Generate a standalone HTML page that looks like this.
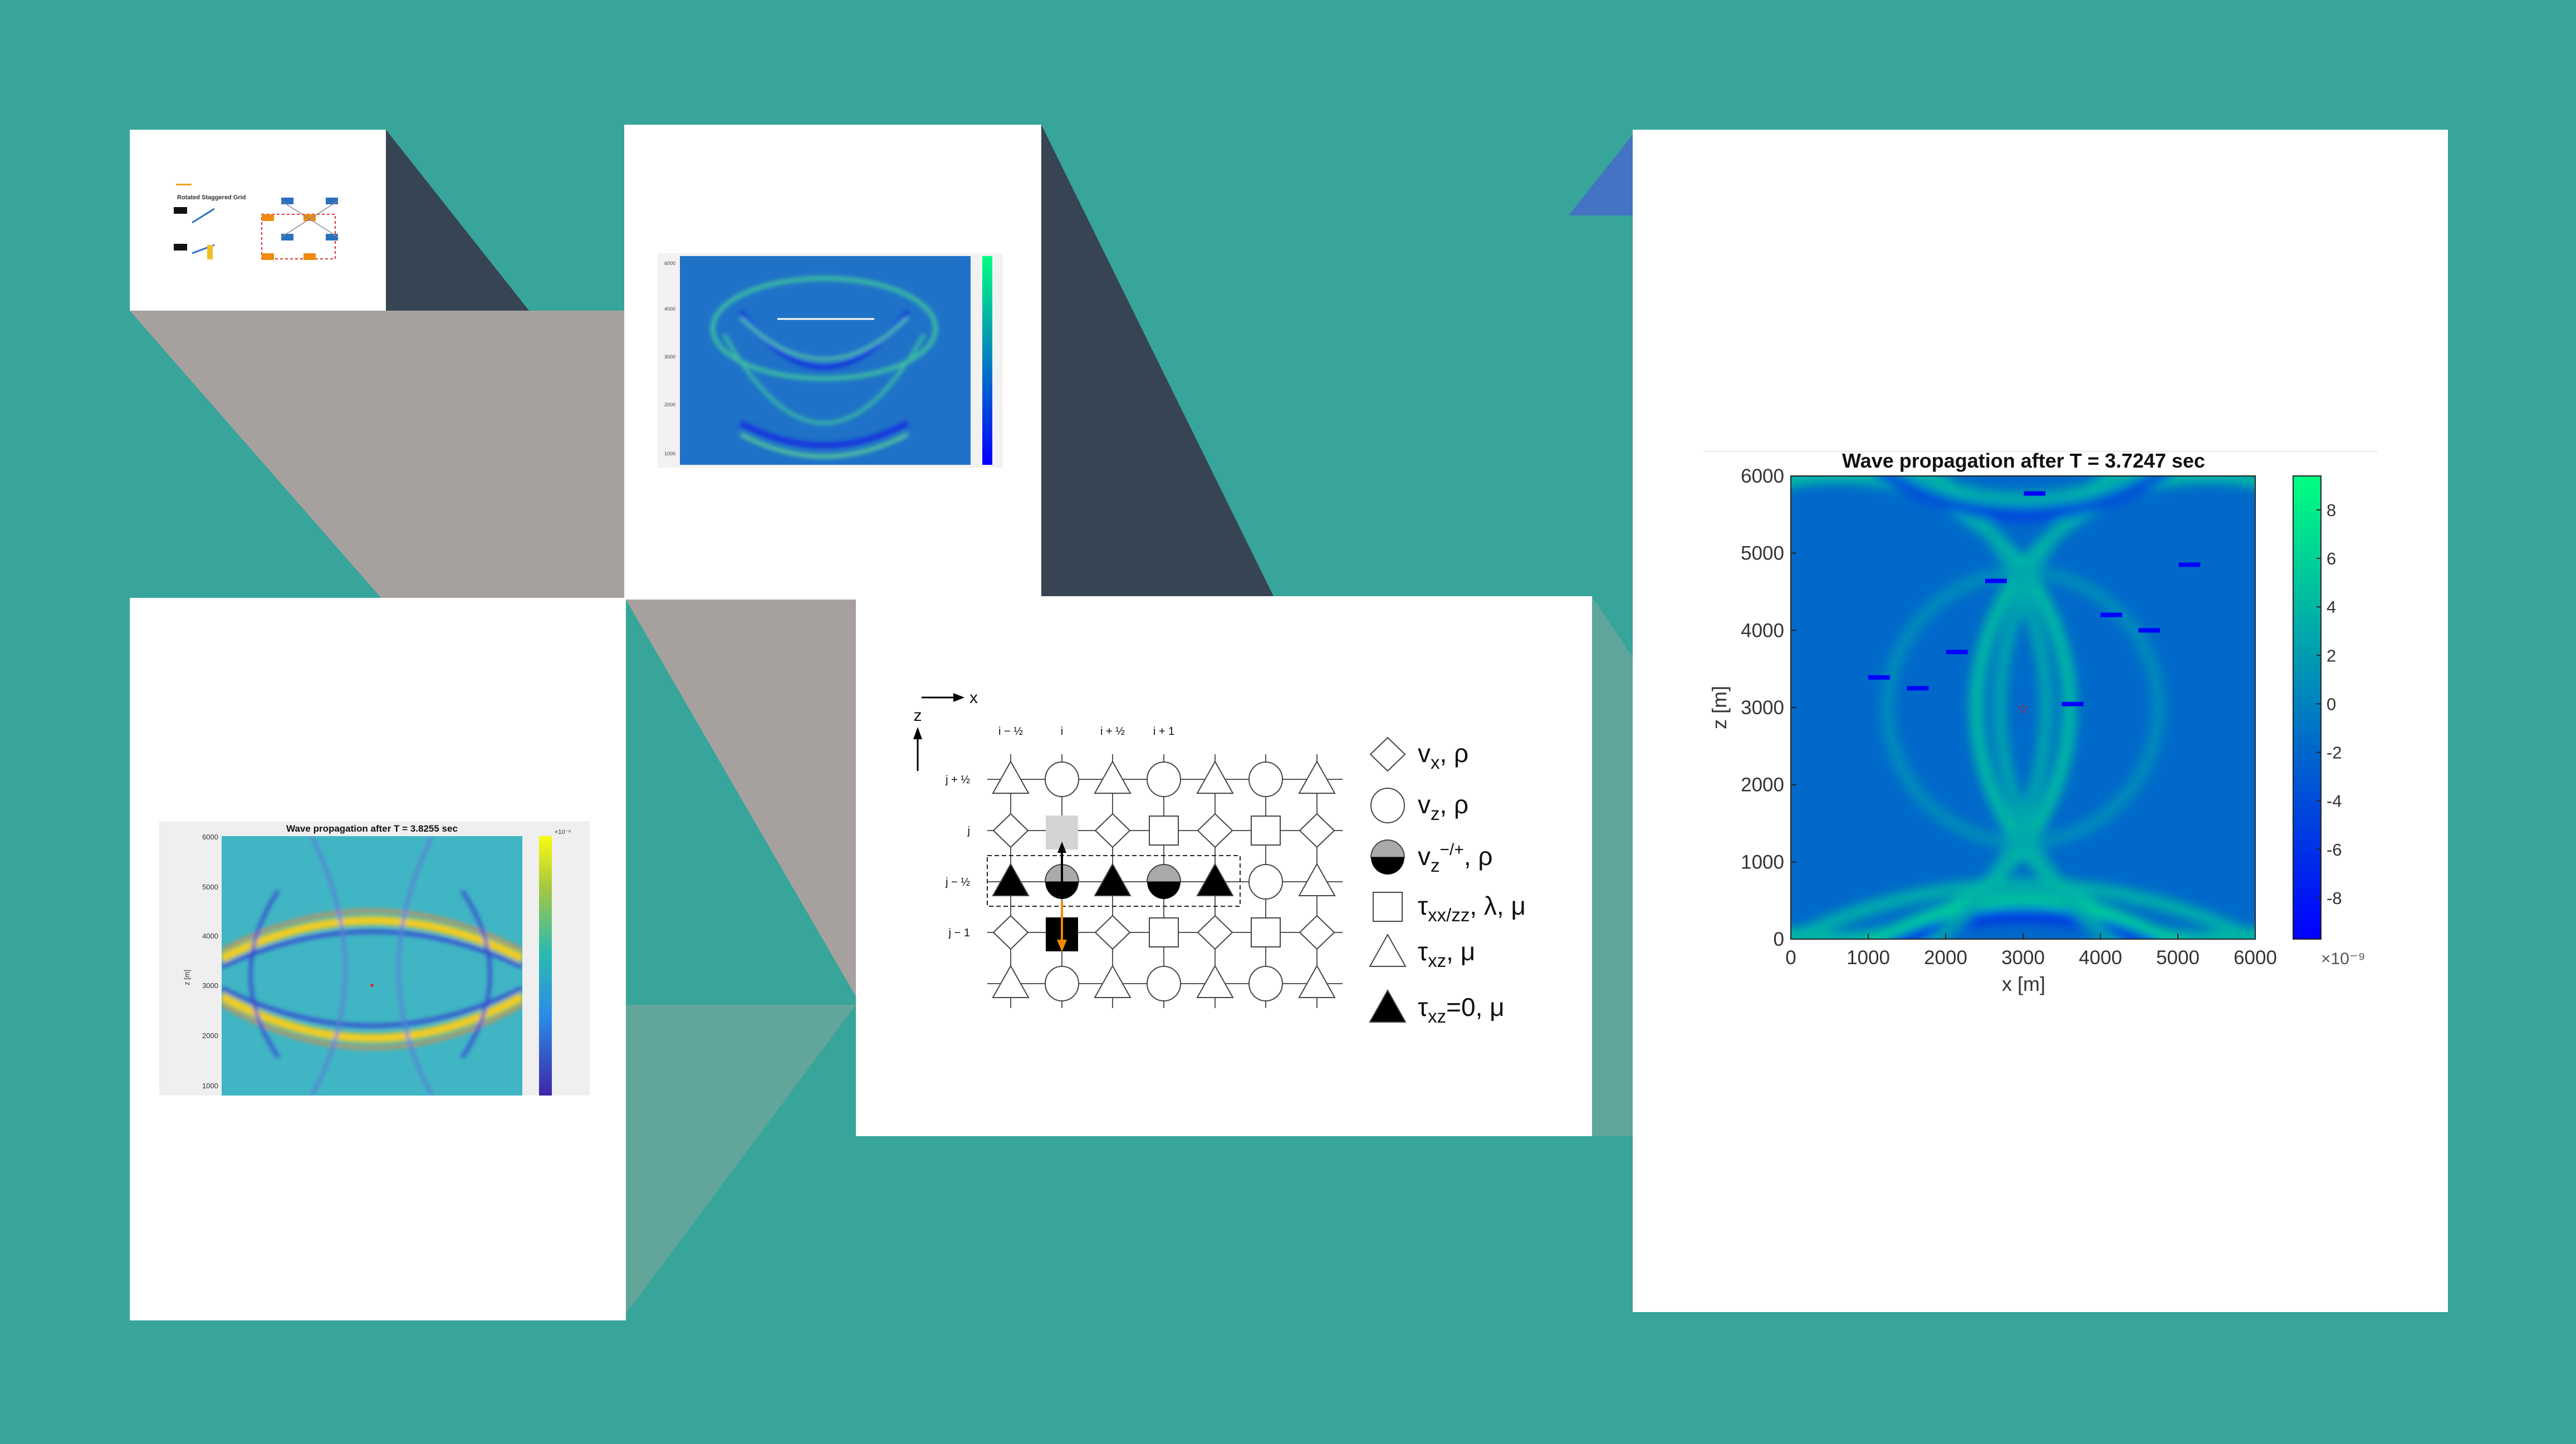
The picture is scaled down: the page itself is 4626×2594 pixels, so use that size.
<!DOCTYPE html>
<html><head><meta charset="utf-8">
<style>
html,body{margin:0;padding:0;background:#37a59a;width:4626px;height:2594px;overflow:hidden;}
svg{display:block;font-family:"Liberation Sans",sans-serif;overflow:hidden;}
</style></head>
<body>
<svg id="root" width="4626" height="2594" viewBox="0 0 4626 2594" xmlns="http://www.w3.org/2000/svg">
<defs>
<filter id="blur1" x="-10%" y="-10%" width="120%" height="120%"><feGaussianBlur stdDeviation="9"/></filter>
<filter id="blur2" x="-10%" y="-10%" width="120%" height="120%"><feGaussianBlur stdDeviation="4"/></filter>
<linearGradient id="winterCb" x1="0" y1="1" x2="0" y2="0"><stop offset="0" stop-color="#0000ff"/><stop offset="1" stop-color="#00ff80"/></linearGradient>
<linearGradient id="parulaCb" x1="0" y1="1" x2="0" y2="0"><stop offset="0" stop-color="#3e26a8"/><stop offset="0.3" stop-color="#2c8ae8"/><stop offset="0.55" stop-color="#2bbbb0"/><stop offset="0.8" stop-color="#a6c740"/><stop offset="1" stop-color="#f9fb0e"/></linearGradient>
<clipPath id="mainClip"><rect x="3216" y="855" width="834" height="832"/></clipPath>
<clipPath id="p2Clip"><rect x="1221" y="460" width="522" height="375"/></clipPath>
<clipPath id="p3Clip"><rect x="398" y="1502" width="540" height="466"/></clipPath>
</defs>

<rect width="4626" height="2594" fill="#37a59a"/>
<polygon points="233,558 1124,558 1124,1077 687,1077" fill="#a6a19f"/>
<polygon points="693,233 950,558 693,558" fill="#364453"/>
<polygon points="1870,224 2287,1071 1870,1071" fill="#364453"/>
<polygon points="1124,1077 1537,1077 1537,1790" fill="#a6a19f"/>
<polygon points="1124,1805 1537,1805 1124,2360" fill="#62a59b"/>
<polygon points="2859,1071 2932,1180 2932,2041 2859,2041" fill="#5fa59b"/>
<polygon points="2817,387 2932,242 2932,387" fill="#4473c3"/>

<rect x="233" y="233" width="460" height="325" fill="#fff"/>
<g>
<text x="318" y="358" font-size="11" font-weight="bold" fill="#333">Rotated Staggered Grid</text>
<rect x="316" y="330" width="28" height="3" fill="#f0a020"/>
<rect x="312" y="372" width="24" height="12" fill="#111"/>
<rect x="312" y="438" width="24" height="12" fill="#111"/>
<line x1="345" y1="400" x2="385" y2="375" stroke="#2a6fc0" stroke-width="3"/>
<line x1="345" y1="455" x2="385" y2="440" stroke="#2a6fc0" stroke-width="3"/>
<rect x="372" y="440" width="10" height="26" fill="#f0c020"/>
<rect x="470" y="385" width="132" height="80" fill="none" stroke="#d33" stroke-width="2" stroke-dasharray="5,4"/>
<rect x="505" y="355" width="22" height="12" fill="#2a6fc0"/><rect x="585" y="355" width="22" height="12" fill="#2a6fc0"/>
<rect x="505" y="420" width="22" height="12" fill="#2a6fc0"/><rect x="585" y="420" width="22" height="12" fill="#2a6fc0"/>
<rect x="470" y="385" width="22" height="12" fill="#f08a10"/><rect x="545" y="385" width="22" height="12" fill="#f08a10"/>
<rect x="470" y="455" width="22" height="12" fill="#f08a10"/><rect x="545" y="455" width="22" height="12" fill="#f08a10"/>
<line x1="505" y1="361" x2="607" y2="426" stroke="#888" stroke-width="1.5"/>
<line x1="607" y1="361" x2="505" y2="426" stroke="#888" stroke-width="1.5"/>
</g>

<rect x="1121" y="224" width="749" height="853" fill="#fff"/>
<g>
<rect x="1181" y="455" width="620" height="385" fill="#f2f2f2"/>
<rect x="1221" y="460" width="522" height="375" fill="#1f72c8"/>
<g clip-path="url(#p2Clip)" filter="url(#blur2)" fill="none">
<ellipse cx="1480" cy="590" rx="200" ry="90" stroke="#3ec0a0" stroke-width="8"/>
<path d="M1330,560 Q1480,760 1630,560" stroke="#1530e0" stroke-width="8"/>
<path d="M1330,570 Q1480,720 1630,570" stroke="#5fd0a0" stroke-width="5"/>
<path d="M1300,600 Q1480,920 1660,600" stroke="#3ec0a0" stroke-width="6"/>
<path d="M1330,760 Q1480,840 1630,760" stroke="#1530e0" stroke-width="10"/>
<path d="M1330,780 Q1480,860 1630,780" stroke="#60d890" stroke-width="6"/>
</g>
<line x1="1396" y1="573" x2="1570" y2="573" stroke="#fff" stroke-width="3"/>
<rect x="1764" y="460" width="18" height="375" fill="url(#winterCb)"/>
<text x="1213" y="476" font-size="9" text-anchor="end" fill="#444">6000</text>
<text x="1213" y="558" font-size="9" text-anchor="end" fill="#444">4000</text>
<text x="1213" y="644" font-size="9" text-anchor="end" fill="#444">3000</text>
<text x="1213" y="730" font-size="9" text-anchor="end" fill="#444">2000</text>
<text x="1213" y="818" font-size="9" text-anchor="end" fill="#444">1000</text>
</g>

<rect x="233" y="1074" width="891" height="1298" fill="#fff"/>
<g>
<rect x="286" y="1475" width="773" height="493" fill="#efefef"/>
<rect x="398" y="1502" width="540" height="466" fill="#40b6c4"/>
<g clip-path="url(#p3Clip)" fill="none" filter="url(#blur2)">
<path d="M398,1722 Q668,1585 938,1722" stroke="#f2cc20" stroke-width="16"/>
<path d="M398,1707 Q668,1565 938,1707" stroke="#e08a40" stroke-width="5"/>
<path d="M398,1790 Q668,1940 938,1790" stroke="#f2cc20" stroke-width="16"/>
<path d="M398,1805 Q668,1960 938,1805" stroke="#e08a40" stroke-width="5"/>
<path d="M398,1737 Q668,1610 938,1737" stroke="#3548d0" stroke-width="7"/>
<path d="M398,1775 Q668,1910 938,1775" stroke="#3548d0" stroke-width="7"/>
<path d="M560,1502 Q680,1750 560,1968" stroke="#5a7ad8" stroke-width="5"/>
<path d="M776,1502 Q656,1750 776,1968" stroke="#5a7ad8" stroke-width="5"/>
<path d="M830,1600 Q930,1750 830,1900" stroke="#3548d0" stroke-width="6"/>
<path d="M500,1600 Q400,1750 500,1900" stroke="#3548d0" stroke-width="6"/>
</g>
<circle cx="668" cy="1770" r="3" fill="#d03030"/>
<text x="668" y="1494" font-size="17" font-weight="bold" text-anchor="middle" fill="#111">Wave propagation after T = 3.8255 sec</text>
<rect x="968" y="1502" width="23" height="466" fill="url(#parulaCb)"/>
<text x="392" y="1508" font-size="13" text-anchor="end" fill="#333">6000</text>
<text x="392" y="1598" font-size="13" text-anchor="end" fill="#333">5000</text>
<text x="392" y="1686" font-size="13" text-anchor="end" fill="#333">4000</text>
<text x="392" y="1775" font-size="13" text-anchor="end" fill="#333">3000</text>
<text x="392" y="1865" font-size="13" text-anchor="end" fill="#333">2000</text>
<text x="392" y="1955" font-size="13" text-anchor="end" fill="#333">1000</text>
<text x="340" y="1770" font-size="13" fill="#333" transform="rotate(-90 340 1770)">z [m]</text>
<text x="996" y="1498" font-size="11" fill="#333">×10⁻⁹</text>
</g>

<rect x="1537" y="1071" width="1322" height="970" fill="#fff"/>
<g id="grid"></g>

<rect x="2932" y="233" width="1464" height="2124" fill="#fff"/>
<line x1="3059" y1="811" x2="4269" y2="811" stroke="#eeeeee" stroke-width="3"/>
<g id="main"></g>
</svg>

<script>
// ===== main chart data =====
const xTicks = [0,1000,2000,3000,4000,5000,6000];
const zTicks = [0,1000,2000,3000,4000,5000,6000];
const cbTicks = [8,6,4,2,0,-2,-4,-6,-8];
const receiverX = [3150,2650,5150,4140,4630,2145,1140,1640,3640];
const receiverZ = [5773,4640,4850,4200,4000,3720,3390,3250,3045];
const sourceX = [3000];
const sourceZ = [2990];
// wavefront arcs: centre x, centre z, radius (m), amplitude (1e-9)
const waveCx  = [600, 5400, 3000, 3000, 3000, -600, 6600, 3000, 3000, 3000];
const waveCz  = [3000,3000, -3000, 3000, -3600, 3000, 3000, 9200, 8800, -6000];
const waveR   = [3000,3000, 3500, 1750, 3900, 3900, 3900, 3500, 3300, 6700];
const waveVal = [5, 5, 6, 1, -6, 3, 3, 4, -5, 4];

const NS="http://www.w3.org/2000/svg";
const PX0=3216, PX1=4050, PY0=1687, PY1=855;
const CBMIN=-9.7, CBMAX=9.4, CBTOP=855, CBBOT=1687;
function sx(v){return PX0+(v/6000)*(PX1-PX0);}
function sz(v){return PY0-(v/6000)*(PY0-PY1);}
function cy(v){return CBBOT-(v-CBMIN)/(CBMAX-CBMIN)*(CBBOT-CBTOP);}
function winter(v){const t=Math.max(0,Math.min(1,(v-CBMIN)/(CBMAX-CBMIN)));return `rgb(0,${Math.round(255*t)},${Math.round(255*(1-t/2))})`;}
function mk(tag,attrs,parent){const e=document.createElementNS(NS,tag);for(const k in attrs)e.setAttribute(k,attrs[k]);parent.appendChild(e);return e;}
function arcPath(cx,cz,r){
  let d='',pen=false;
  for(let k=0;k<=720;k++){
    const a=k/720*2*Math.PI, x=cx+r*Math.cos(a), z=cz+r*Math.sin(a);
    if(x>=-250&&x<=6250&&z>=-250&&z<=6250){d+=(pen?'L':'M')+sx(x).toFixed(1)+','+sz(z).toFixed(1);pen=true;}
    else pen=false;
  }
  return d||'M0,0';
}

const main=document.getElementById('main');
const bg=mk('rect',{x:PX0,y:PY1,width:PX1-PX0,height:PY0-PY1,fill:winter(-1.8)},main);


const waves=mk('g',{'clip-path':'url(#mainClip)',filter:'url(#blur1)',fill:'none'},main);


for(let i=0;i<waveCx.length;i++){
  const e=mk('path',{d:arcPath(waveCx[i],waveCz[i],waveR[i]),stroke:winter(waveVal[i]),'stroke-width':26,opacity:0.85},waves);
  
  
}
mk('rect',{x:PX0,y:PY1,width:PX1-PX0,height:PY0-PY1,fill:'none',stroke:'#222','stroke-width':2},main);
for(let i=0;i<receiverX.length;i++){
  const r=mk('rect',{x:sx(receiverX[i]-140),y:sz(receiverZ[i])-4,width:sx(280)-sx(0),height:8,fill:'#0000ff'},main);
  
  
}
for(let i=0;i<sourceX.length;i++){
  const s=mk('text',{x:sx(sourceX[i]),y:sz(sourceZ[i])+9,'font-size':26,fill:'#d02020','text-anchor':'middle'},main);
  s.textContent='☆';
  
  
}
for(const v of xTicks){
  mk('line',{x1:sx(v),y1:PY0,x2:sx(v),y2:PY0-10,stroke:'#222','stroke-width':2},main);
  const t=mk('text',{x:sx(v),y:1732,'font-size':35,'text-anchor':'middle',fill:'#333'},main);
  t.textContent=v;
  
  
}
for(const v of zTicks){
  mk('line',{x1:PX0,y1:sz(v),x2:PX0+10,y2:sz(v),stroke:'#222','stroke-width':2},main);
  const t=mk('text',{x:3204,y:sz(v)+12,'font-size':35,'text-anchor':'end',fill:'#333'},main);
  t.textContent=v;
  
  
}
const title=mk('text',{x:3634,y:840,'font-size':36,'font-weight':'bold','text-anchor':'middle',fill:'#111'},main);
title.textContent='Wave propagation after T = 3.7247 sec';


const xl=mk('text',{x:3634,y:1780,'font-size':36,'text-anchor':'middle',fill:'#333'},main);
xl.textContent='x [m]';


const zl=mk('text',{x:3100,y:1271,'font-size':36,'text-anchor':'middle',fill:'#333',transform:'rotate(-90 3100 1271)'},main);
zl.textContent='z [m]';


const cb=mk('rect',{x:4118,y:CBTOP,width:50,height:CBBOT-CBTOP,fill:'url(#winterCb)',stroke:'#222','stroke-width':2},main);


for(const v of cbTicks){
  mk('line',{x1:4160,y1:cy(v),x2:4168,y2:cy(v),stroke:'#222','stroke-width':2},main);
  const t=mk('text',{x:4178,y:cy(v)+11,'font-size':31,fill:'#333'},main);
  t.textContent=v;
  
  
}
const ex=mk('text',{x:4168,y:1732,'font-size':30,fill:'#555'},main);
ex.textContent='×10⁻⁹';



// ===== staggered grid diagram =====
const colX=[1815,1907,1998,2090,2182,2273,2365];
const rowY=[1400,1492,1584,1675,1767];
const rowShapes=[
 ['tri','circ','tri','circ','tri','circ','tri'],
 ['diam','gsq','diam','sq','diam','sq','diam'],
 ['btri','half','btri','half','btri','circ','tri'],
 ['diam','bsq','diam','sq','diam','sq','diam'],
 ['tri','circ','tri','circ','tri','circ','tri']];
const g=document.getElementById('grid');
function shape(type,x,y,parent){
  const st={stroke:'#444','stroke-width':2};
  if(type==='tri'||type==='btri'){mk('polygon',Object.assign({points:`${x},${y-32} ${x-32},${y+25} ${x+32},${y+25}`,fill:type==='btri'?'#000':'#fff'},st),parent);}
  else if(type==='circ'){mk('ellipse',Object.assign({cx:x,cy:y,rx:30,ry:31,fill:'#fff'},st),parent);}
  else if(type==='half'){mk('path',{d:`M${x-30},${y} A30,31 0 0 1 ${x+30},${y} Z`,fill:'#aaa',stroke:'#444','stroke-width':2},parent);mk('path',{d:`M${x-30},${y} A30,31 0 0 0 ${x+30},${y} Z`,fill:'#000'},parent);}
  else if(type==='diam'){mk('polygon',Object.assign({points:`${x},${y-30} ${x+31},${y} ${x},${y+30} ${x-31},${y}`,fill:'#fff'},st),parent);}
  else if(type==='sq'){mk('rect',Object.assign({x:x-26,y:y-26,width:52,height:52,fill:'#fff'},st),parent);}
  else if(type==='gsq'){mk('rect',{x:x-29,y:y-27,width:58,height:61,fill:'#d4d4d4'},parent);}
  else if(type==='bsq'){mk('rect',{x:x-29,y:y-27,width:58,height:61,fill:'#000'},parent);}
}
for(const y of rowY) mk('line',{x1:1773,y1:y,x2:2411,y2:y,stroke:'#555','stroke-width':2},g);
for(const x of colX) mk('line',{x1:x,y1:1355,x2:x,y2:1811,stroke:'#555','stroke-width':2},g);
mk('rect',{x:1773,y:1537,width:454,height:91,fill:'none',stroke:'#222','stroke-width':2,'stroke-dasharray':'8,5'},g);
for(let r=0;r<rowY.length;r++)for(let c=0;c<colX.length;c++){
  const sg=mk('g',{},g);
  
  
  shape(rowShapes[r][c],colX[c],rowY[r],sg);
}
mk('line',{x1:1907,y1:1584,x2:1907,y2:1530,stroke:'#000','stroke-width':4},g);
mk('polygon',{points:'1907,1512 1899,1532 1915,1532',fill:'#000'},g);
mk('line',{x1:1907,y1:1619,x2:1907,y2:1690,stroke:'#f08a00','stroke-width':4},g);
mk('polygon',{points:'1907,1710 1898,1688 1916,1688',fill:'#f08a00'},g);
mk('line',{x1:1655,y1:1253,x2:1715,y2:1253,stroke:'#000','stroke-width':3},g);
mk('polygon',{points:'1732,1253 1712,1245 1712,1261',fill:'#000'},g);
mk('line',{x1:1648,y1:1385,x2:1648,y2:1325,stroke:'#000','stroke-width':3},g);
mk('polygon',{points:'1648,1306 1640,1328 1656,1328',fill:'#000'},g);
function txt(s,x,y,size,anchor,parent,name){const t=mk('text',{x:x,y:y,'font-size':size,'text-anchor':anchor||'start',fill:'#111'},parent);t.textContent=s;return t;}
txt('x',1741,1263,30,'start',g,'x-direction-label');
txt('z',1648,1295,30,'middle',g,'z-direction-label');
const colLabels=['i − ½','i','i + ½','i + 1'];
for(let c=0;c<colLabels.length;c++) txt(colLabels[c],colX[c],1320,20,'middle',g,'column-label');
const rowLabels=['j + ½','j','j − ½','j − 1'];
for(let r=0;r<rowLabels.length;r++) txt(rowLabels[r],1742,rowY[r]+7,20,'end',g,'row-label');
const legY=[1355,1447,1540,1629,1711,1811];
const legShape=['diam','circ','half','sq','tri','btri'];
const legText=[['v','x',', ρ'],['v','z',', ρ'],['v','z',', ρ'],['τ','xx/zz',', λ, μ'],['τ','xz',', μ'],['τ','xz','=0, μ']];
for(let i=0;i<legY.length;i++){
  const lg=mk('g',{},g);
  
  
  shape(legShape[i],2492,legY[i],lg);
  const t=mk('text',{x:2546,y:legY[i]+14,'font-size':46,fill:'#111'},lg);
  t.innerHTML=`${legText[i][0]}<tspan dy="12" font-size="33">${legText[i][1]}</tspan>${i===2?'<tspan dy="-30" font-size="30">−/+</tspan><tspan dy="18">':'<tspan dy="-12">'}${legText[i][2]}</tspan>`;
}
</script>
</body></html>
